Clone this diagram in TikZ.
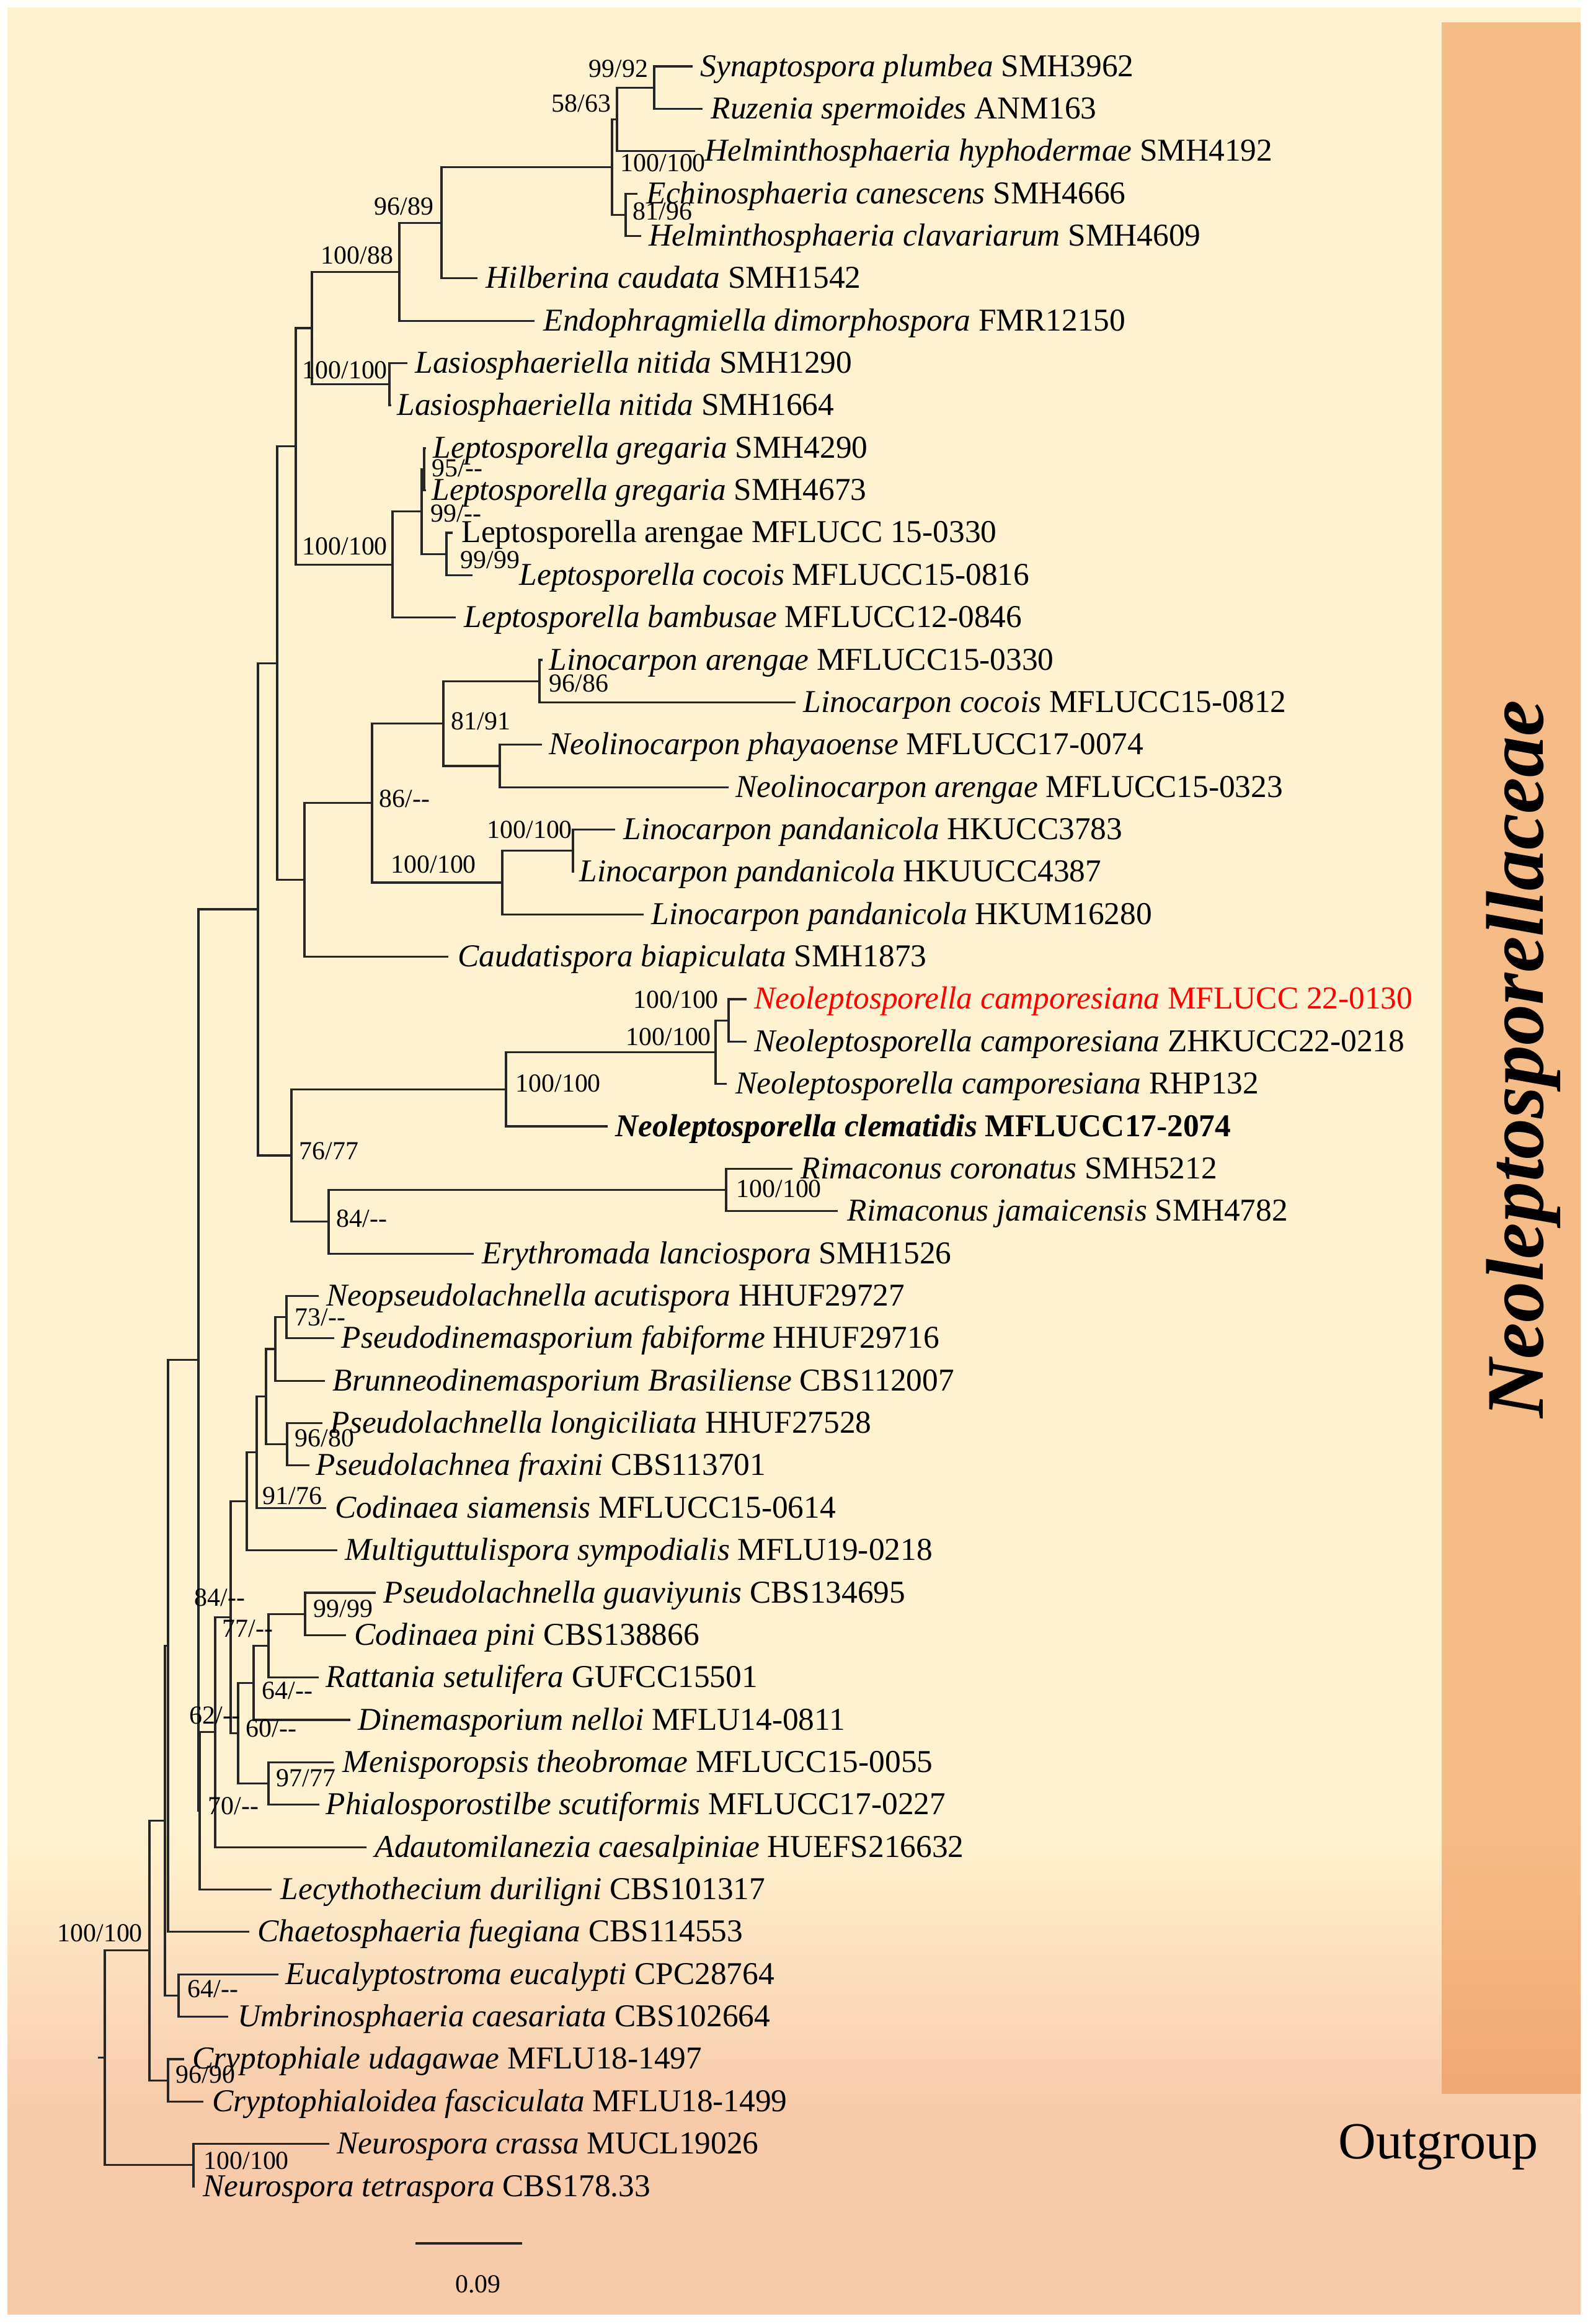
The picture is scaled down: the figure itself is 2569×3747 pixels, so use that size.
\documentclass[tikz,border=0pt]{standalone}
\usepackage{fontspec}
\setmainfont{Liberation Serif}
\usepackage{tikz}
\usetikzlibrary{calc}
\definecolor{cream}{RGB}{255,242,208}
\definecolor{peach}{RGB}{247,203,170}
\definecolor{bartop}{RGB}{246,188,135}
\definecolor{barbot}{RGB}{240,168,116}
\newcommand\taxfont{\fontsize{14.6}{16}\selectfont}
\newcommand\supfont{\fontsize{11.9}{13}\selectfont}
\newcommand\nd{-{}-}
\tikzstyle{branch}=[line width=0.9pt, black!85]
\tikzstyle{taxon}=[anchor=base west, inner sep=0pt, font=\taxfont, yshift=-0.16cm]
\tikzstyle{support}=[anchor=base west, inner sep=0pt, font=\supfont, yshift=-0.12cm]
% a clade: name, x of the node, upper child, lower child
\newcommand\clade[4]{%
  \coordinate (tmpx) at (#2,0);
  \coordinate (tmpy) at ($(#3)!0.5!(#4)$);
  \coordinate (#1) at (tmpx |- tmpy);
  \draw[branch] (#1) |- (#3);
  \draw[branch] (#1) |- (#4);
}

\begin{document}
\begin{tikzpicture}[x=0.01cm, y=-0.01cm]

  \useasboundingbox (0,0) rectangle (2569,3747);
  \fill[white] (0,0) rectangle (2569,3747);
  \fill[cream] (12,12) rectangle (2549,2952);
  \shade[top color=cream, bottom color=peach] (12,2950) rectangle (2549,3402);
  \fill[peach] (12,3400) rectangle (2549,3732);

  \fill[bartop] (2325,36) rectangle (2549,2952);
  \shade[top color=bartop, bottom color=barbot] (2325,2950) rectangle (2549,3375);

  % tips and their names
  \foreach \i/\tx/\lx/\txt in {
    1/1117/1129/{\textit{Synaptospora plumbea} SMH3962},
    2/1133/1146/{\textit{Ruzenia spermoides} ANM163},
    3/1121/1136/{\textit{Helminthosphaeria hyphodermae} SMH4192},
    4/1028/1042/{\textit{Echinosphaeria canescens} SMH4666},
    5/1034/1046/{\textit{Helminthosphaeria clavariarum} SMH4609},
    6/770/783/{\textit{Hilberina caudata} SMH1542},
    7/862/876/{\textit{Endophragmiella dimorphospora} FMR12150},
    8/657/669/{\textit{Lasiosphaeriella nitida} SMH1290},
    9/631/640/{\textit{Lasiosphaeriella nitida} SMH1664},
    10/687/698/{\textit{Leptosporella gregaria} SMH4290},
    11/687/696/{\textit{Leptosporella gregaria} SMH4673},
    12/730/744/{Leptosporella arengae MFLUCC 15-0330},
    13/762/837/{\textit{Leptosporella cocois} MFLUCC15-0816},
    14/735/748/{\textit{Leptosporella bambusae} MFLUCC12-0846},
    15/875/885/{\textit{Linocarpon arengae} MFLUCC15-0330},
    16/1283/1295/{\textit{Linocarpon cocois} MFLUCC15-0812},
    17/874/885/{\textit{Neolinocarpon phayaoense} MFLUCC17-0074},
    18/1175/1186/{\textit{Neolinocarpon arengae} MFLUCC15-0323},
    19/992/1005/{\textit{Linocarpon pandanicola} HKUCC3783},
    20/926/934/{\textit{Linocarpon pandanicola} HKUUCC4387},
    21/1038/1050/{\textit{Linocarpon pandanicola} HKUM16280},
    22/723/738/{\textit{Caudatispora biapiculata} SMH1873},
    23/1204/1216/{\color{red}\textit{Neoleptosporella camporesiana} MFLUCC 22-0130},
    24/1204/1216/{\textit{Neoleptosporella camporesiana} ZHKUCC22-0218},
    25/1172/1186/{\textit{Neoleptosporella camporesiana} RHP132},
    26/980/992/{\bfseries\textit{Neoleptosporella clematidis} MFLUCC17-2074},
    27/1278/1291/{\textit{Rimaconus coronatus} SMH5212},
    28/1351/1366/{\textit{Rimaconus jamaicensis} SMH4782},
    29/764/777/{\textit{Erythromada lanciospora} SMH1526},
    30/514/526/{\textit{Neopseudolachnella acutispora} HHUF29727},
    31/539/550/{\textit{Pseudodinemasporium fabiforme} HHUF29716},
    32/524/536/{\textit{Brunneodinemasporium Brasiliense} CBS112007},
    33/520/532/{\textit{Pseudolachnella longiciliata} HHUF27528},
    34/499/509/{\textit{Pseudolachnea fraxini} CBS113701},
    35/526/540/{\textit{Codinaea siamensis} MFLUCC15-0614},
    36/544/556/{\textit{Multiguttulispora sympodialis} MFLU19-0218},
    37/606/618/{\textit{Pseudolachnella guaviyunis} CBS134695},
    38/558/571/{\textit{Codinaea pini} CBS138866},
    39/514/525/{\textit{Rattania setulifera} GUFCC15501},
    40/565/577/{\textit{Dinemasporium nelloi} MFLU14-0811},
    41/538/552/{\textit{Menisporopsis theobromae} MFLUCC15-0055},
    42/515/525/{\textit{Phialosporostilbe scutiformis} MFLUCC17-0227},
    43/591/604/{\textit{Adautomilanezia caesalpiniae} HUEFS216632},
    44/438/452/{\textit{Lecythothecium duriligni} CBS101317},
    45/402/415/{\textit{Chaetosphaeria fuegiana} CBS114553},
    46/449/460/{\textit{Eucalyptostroma eucalypti} CPC28764},
    47/368/383/{\textit{Umbrinosphaeria caesariata} CBS102664},
    48/297/310/{\textit{Cryptophiale udagawae} MFLU18-1497},
    49/328/342/{\textit{Cryptophialoidea fasciculata} MFLU18-1499},
    50/531/543/{\textit{Neurospora crassa} MUCL19026},
    51/314/327/{\textit{Neurospora tetraspora} CBS178.33}}{
    \coordinate (t\i) at (\tx,{107+(\i-1)*68.36});
    \node[taxon] (l\i) at (\lx,{107+(\i-1)*68.36}) {\txt};
  }

  % upper clades
  \clade{a1}{1055}{t1}{t2}
  \clade{a2}{995}{a1}{t3}
  \clade{a3}{1009}{t4}{t5}
  \clade{a4}{987}{a2}{a3}
  \clade{a5}{712}{a4}{t6}
  \clade{a6}{644}{a5}{t7}
  \clade{a7}{628}{t8}{t9}
  \clade{a8}{503}{a6}{a7}
  \clade{b1}{684}{t10}{t11}
  \clade{b2}{720}{t12}{t13}
  \clade{b3}{680}{b1}{b2}
  \clade{b4}{633}{b3}{t14}
  \clade{a9}{477}{a8}{b4}
  \clade{c1}{870}{t15}{t16}
  \clade{c2}{806}{t17}{t18}
  \clade{c3}{715}{c1}{c2}
  \clade{c4}{924}{t19}{t20}
  \clade{c5}{810}{c4}{t21}
  \clade{c6}{600}{c3}{c5}
  \clade{c7}{491}{c6}{t22}
  \clade{a10}{447}{a9}{c7}
  \clade{d1}{1175}{t23}{t24}
  \clade{d2}{1154}{d1}{t25}
  \clade{d3}{816}{d2}{t26}
  \clade{d4}{1171}{t27}{t28}
  \clade{d5}{530}{d4}{t29}
  \clade{d6}{470}{d3}{d5}
  \clade{a11}{416}{a10}{d6}

  % lower clades
  \clade{e1}{462}{t30}{t31}
  \clade{e2}{444}{e1}{t32}
  \clade{e3}{463}{t33}{t34}
  \clade{e4}{429}{e2}{e3}
  \clade{e5}{414}{e4}{t35}
  \clade{e6}{398}{e5}{t36}
  \clade{f1}{492}{t37}{t38}
  \clade{f2}{433}{f1}{t39}
  \clade{f3}{409}{f2}{t40}
  \clade{f4}{433}{t41}{t42}
  \clade{f5}{384}{f3}{f4}
  \clade{f6}{372}{e6}{f5}
  \clade{f7}{347}{f6}{t43}
  \clade{g1}{322}{f7}{t44}
  \clade{g2}{320}{a11}{g1}
  \clade{g3}{271}{g2}{t45}
  \clade{h1}{288}{t46}{t47}
  \clade{g4}{266}{g3}{h1}
  \clade{h2}{271}{t48}{t49}
  \clade{g5}{241}{g4}{h2}
  \clade{h3}{312}{t50}{t51}
  \clade{root}{169}{g5}{h3}
  \coordinate (stubx) at (158,0);
  \coordinate (stub) at (stubx |- root);
  \draw[branch] (stub) -- (root);

  % support values
  \foreach \x/\y/\a/\b [count=\k] in {
    949/112/99/92, 889/168/58/63, 1000/264/100/100, 1020/342/81/96,
    603/334/96/89, 517/413/100/88, 487/598/100/100, 696/756/95/\nd,
    694/829/99/\nd, 742/904/99/99, 487/882/100/100, 885/1103/96/86,
    727/1164/81/91, 611/1289/86/\nd, 785/1339/100/100, 630/1395/100/100,
    1021/1613/100/100, 1009/1673/100/100, 831/1748/100/100, 482/1857/76/77,
    1187/1918/100/100, 542/1966/84/\nd, 475/2125/73/\nd, 475/2320/96/80,
    423/2413/91/76, 313/2577/84/\nd, 505/2595/99/99, 358/2627/77/\nd,
    422/2727/64/\nd, 305/2767/62/\nd, 396/2788/60/\nd, 445/2868/97/77,
    335/2913/70/\nd, 92/3118/100/100, 302/3208/64/\nd, 283/3346/96/90,
    328/3485/100/100}{
    \node[support] (s\k) at (\x,\y) {\a/\b};
  }

  % scale bar
  \coordinate (sbA) at (670,3617);
  \coordinate (sbB) at (842,3617);
  \draw[branch] (sbA) -- (sbB);
  \node[font=\supfont, inner sep=0pt] (sbl) at (771,3683) {0.09};

  % family and outgroup names
  \node[rotate=90, anchor=base, inner sep=0pt,
        font=\fontsize{37.5}{40}\selectfont\bfseries\itshape] (fam) at (2488,1708) {Neoleptosporellaceae};
  \node[anchor=base west, inner sep=0pt, font=\fontsize{23.9}{26}\selectfont] (outg) at (2158,3480) {Outgroup};

\end{tikzpicture}
\end{document}
